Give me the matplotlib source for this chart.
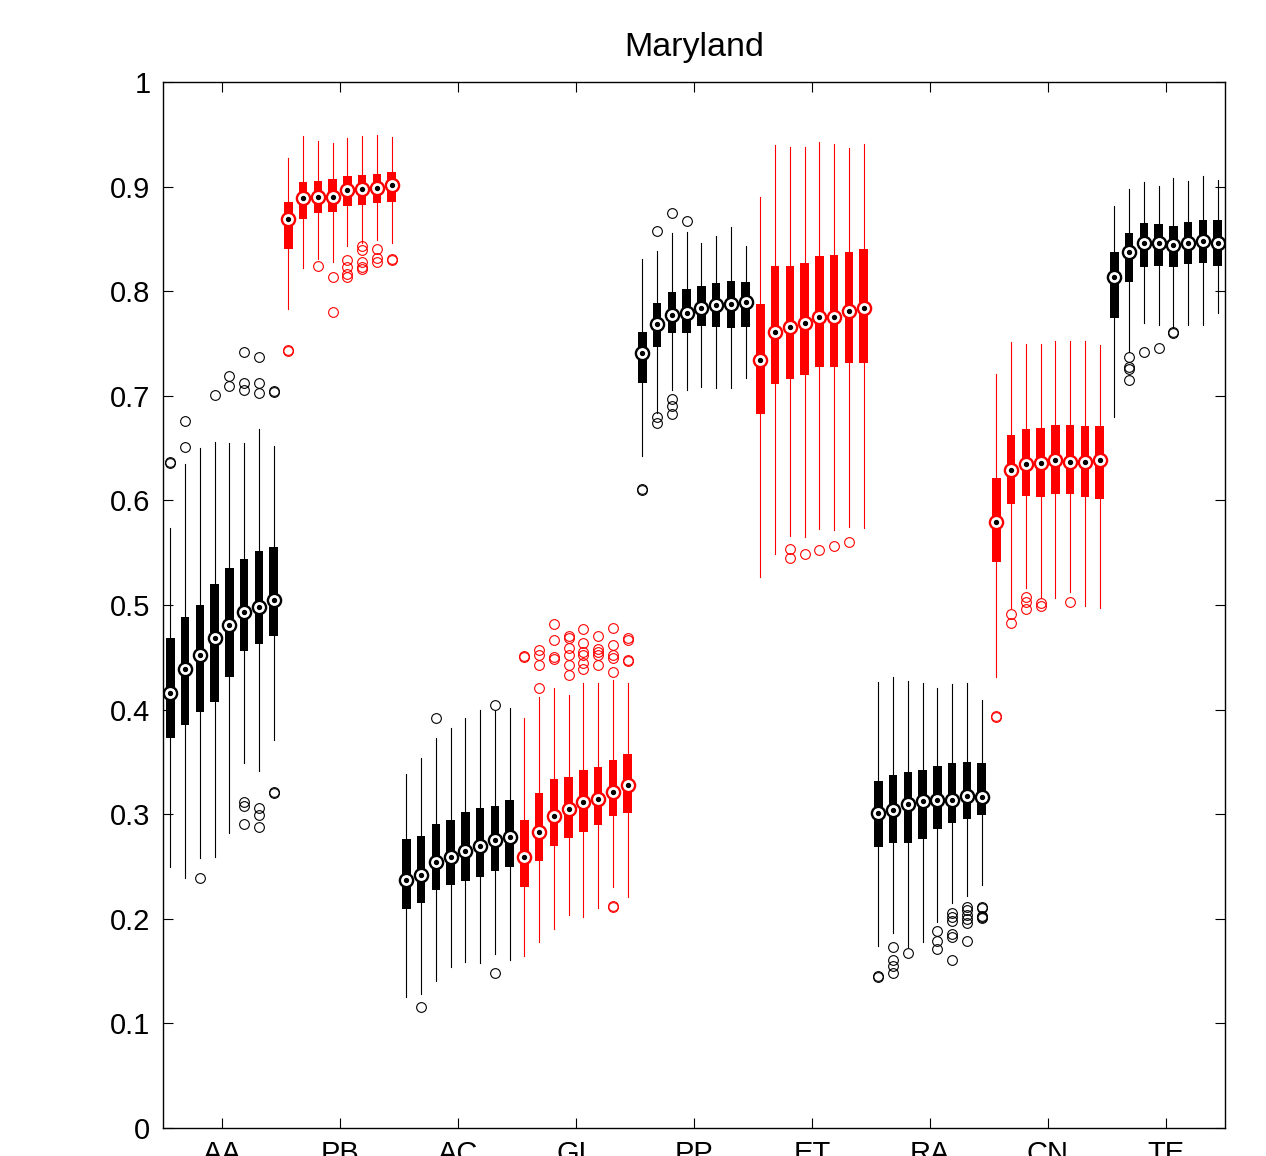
import matplotlib
matplotlib.use("Agg")
import matplotlib.pyplot as plt
import numpy as np

groups = ["AA", "PB", "AC", "GL", "PP", "ET", "RA", "CN", "TE"]
group_colors = ["black", "red", "black", "red", "black", "red", "black", "red", "black"]

medians = [
    [0.416, 0.439, 0.452, 0.468, 0.481, 0.493, 0.498, 0.505],
    [0.869, 0.889, 0.890, 0.890, 0.897, 0.898, 0.899, 0.902],
    [0.237, 0.242, 0.254, 0.259, 0.265, 0.270, 0.275, 0.278],
    [0.259, 0.283, 0.298, 0.305, 0.312, 0.315, 0.321, 0.328],
    [0.741, 0.769, 0.777, 0.779, 0.784, 0.787, 0.788, 0.790],
    [0.734, 0.761, 0.766, 0.770, 0.775, 0.775, 0.781, 0.784],
    [0.301, 0.304, 0.310, 0.313, 0.314, 0.314, 0.317, 0.316],
    [0.579, 0.629, 0.635, 0.636, 0.639, 0.637, 0.637, 0.639],
    [0.814, 0.837, 0.846, 0.846, 0.844, 0.846, 0.848, 0.846],
]
q1 = [
    [0.373, 0.385, 0.398, 0.407, 0.431, 0.456, 0.463, 0.470],
    [0.840, 0.869, 0.875, 0.876, 0.881, 0.882, 0.884, 0.885],
    [0.209, 0.215, 0.228, 0.232, 0.236, 0.240, 0.246, 0.250],
    [0.230, 0.255, 0.270, 0.277, 0.283, 0.290, 0.298, 0.301],
    [0.712, 0.747, 0.760, 0.760, 0.767, 0.766, 0.765, 0.766],
    [0.683, 0.711, 0.716, 0.720, 0.728, 0.728, 0.731, 0.731],
    [0.269, 0.272, 0.272, 0.276, 0.286, 0.292, 0.295, 0.299],
    [0.541, 0.597, 0.604, 0.603, 0.606, 0.606, 0.603, 0.601],
    [0.774, 0.809, 0.823, 0.824, 0.823, 0.826, 0.827, 0.824],
]
q3 = [
    [0.468, 0.489, 0.500, 0.520, 0.535, 0.544, 0.552, 0.555],
    [0.885, 0.904, 0.905, 0.907, 0.910, 0.911, 0.912, 0.914],
    [0.276, 0.279, 0.291, 0.294, 0.302, 0.306, 0.308, 0.314],
    [0.294, 0.320, 0.334, 0.336, 0.342, 0.345, 0.352, 0.358],
    [0.761, 0.789, 0.799, 0.802, 0.805, 0.808, 0.810, 0.809],
    [0.788, 0.824, 0.824, 0.827, 0.834, 0.835, 0.837, 0.840],
    [0.332, 0.337, 0.340, 0.342, 0.346, 0.349, 0.350, 0.349],
    [0.621, 0.663, 0.668, 0.669, 0.672, 0.672, 0.671, 0.671],
    [0.837, 0.856, 0.865, 0.864, 0.862, 0.866, 0.868, 0.868],
]
whisker_lo = [
    [0.250, 0.239, 0.258, 0.259, 0.282, 0.349, 0.341, 0.371],
    [0.783, 0.822, 0.831, 0.828, 0.843, 0.846, 0.849, 0.846],
    [0.125, 0.128, 0.141, 0.154, 0.159, 0.158, 0.166, 0.161],
    [0.164, 0.178, 0.190, 0.204, 0.202, 0.210, 0.230, 0.221],
    [0.642, 0.684, 0.706, 0.706, 0.708, 0.707, 0.707, 0.717],
    [0.527, 0.549, 0.566, 0.565, 0.573, 0.572, 0.575, 0.574],
    [0.174, 0.186, 0.173, 0.178, 0.197, 0.215, 0.222, 0.232],
    [0.431, 0.497, 0.516, 0.507, 0.507, 0.512, 0.499, 0.497],
    [0.680, 0.742, 0.770, 0.768, 0.765, 0.768, 0.768, 0.779],
]
whisker_hi = [
    [0.574, 0.635, 0.650, 0.656, 0.655, 0.655, 0.668, 0.652],
    [0.927, 0.948, 0.944, 0.942, 0.946, 0.948, 0.949, 0.947],
    [0.338, 0.354, 0.373, 0.382, 0.392, 0.400, 0.399, 0.402],
    [0.392, 0.412, 0.421, 0.414, 0.425, 0.425, 0.428, 0.425],
    [0.831, 0.838, 0.856, 0.857, 0.846, 0.853, 0.861, 0.843],
    [0.890, 0.940, 0.938, 0.938, 0.943, 0.941, 0.937, 0.941],
    [0.426, 0.431, 0.427, 0.425, 0.421, 0.424, 0.425, 0.409],
    [0.721, 0.751, 0.750, 0.750, 0.752, 0.752, 0.752, 0.749],
    [0.881, 0.898, 0.904, 0.901, 0.908, 0.905, 0.910, 0.906],
]
outliers = [
    [[0.636, 0.637], [0.676, 0.651], [0.239], [0.701], [0.719, 0.709],
     [0.742, 0.712, 0.706, 0.312, 0.308, 0.291], [0.737, 0.712, 0.703, 0.306, 0.299, 0.288],
     [0.704, 0.705, 0.320, 0.321]],
    [[0.743, 0.744], [], [0.824], [0.814, 0.780], [0.830, 0.823, 0.816, 0.814],
     [0.843, 0.839, 0.828, 0.823, 0.821], [0.840, 0.832, 0.828], [0.831, 0.830]],
    [[], [0.116], [0.392], [], [], [], [0.404, 0.148], []],
    [[0.450, 0.451], [0.421, 0.443, 0.452, 0.457], [0.482, 0.467, 0.448, 0.450],
     [0.470, 0.468, 0.459, 0.452, 0.443, 0.433], [0.477, 0.464, 0.455, 0.452, 0.445, 0.439],
     [0.470, 0.458, 0.455, 0.452, 0.443], [0.478, 0.462, 0.452, 0.449, 0.436, 0.211, 0.212],
     [0.467, 0.468, 0.446, 0.447]],
    [[0.610, 0.611], [0.858, 0.680, 0.674], [0.875, 0.697, 0.690, 0.683], [0.867], [], [], [], []],
    [[], [], [0.554, 0.545], [0.549], [0.553], [0.556], [0.560], []],
    [[0.144, 0.145], [0.173, 0.161, 0.155, 0.148], [0.167], [], [0.188, 0.179, 0.171],
     [0.206, 0.202, 0.198, 0.185, 0.183, 0.161], [0.211, 0.208, 0.204, 0.200, 0.196, 0.179],
     [0.210, 0.211, 0.202, 0.201, 0.203]],
    [[0.393, 0.394], [0.491, 0.483], [0.508, 0.503, 0.496], [0.502, 0.499], [], [0.503], [], []],
    [[], [0.737, 0.728, 0.726, 0.715], [0.742], [0.746], [0.760, 0.761], [], [], []],
]

plt.rcParams["font.family"] = ["Liberation Sans", "DejaVu Sans"]

fig = plt.figure(figsize=(12.66, 11.56), dpi=100)
ax = fig.add_axes([163 / 1266, 1 - 1128 / 1156, (1225 - 163) / 1266, (1128 - 82) / 1156])

n_per = 8
for g, name in enumerate(groups):
    color = group_colors[g]
    pos = np.arange(n_per) + g * n_per + 1
    stats = []
    for i in range(n_per):
        stats.append({
            "med": medians[g][i], "q1": q1[g][i], "q3": q3[g][i],
            "whislo": whisker_lo[g][i], "whishi": whisker_hi[g][i],
            "fliers": outliers[g][i],
        })
    ax.bxp(stats, positions=pos, widths=0.58, patch_artist=True, showcaps=False,
           boxprops=dict(facecolor=color, edgecolor=color, linewidth=0),
           whiskerprops=dict(color=color, linewidth=0.8),
           medianprops=dict(linewidth=0),
           flierprops=dict(marker="o", markerfacecolor="none", markeredgecolor=color,
                           markersize=7, markeredgewidth=0.8))
    # median marker: white circle with a dot
    ax.plot(pos, medians[g], "o", markersize=9.5, markerfacecolor="white",
            markeredgecolor=color, markeredgewidth=1.7, zorder=5)
    ax.plot(pos, medians[g], "o", markersize=2.8, color="black", zorder=6)

ax.set_xlim(0.5, n_per * len(groups) + 0.5)
ax.set_ylim(0, 1)
ax.set_xticks(np.arange(len(groups)) * n_per + 4.5)
ax.set_xticklabels(groups)
ax.set_yticks(np.arange(0, 1.01, 0.1))
ax.set_yticklabels(["0", "0.1", "0.2", "0.3", "0.4", "0.5", "0.6", "0.7", "0.8", "0.9", "1"])
ax.tick_params(direction="in", length=7, width=0.8, top=True, right=True,
               labelsize=21, pad=9)
for s in ax.spines.values():
    s.set_linewidth(1.0)
ax.set_title("Maryland", fontsize=24.5, pad=19)

fig.savefig("out.png", dpi=100)
